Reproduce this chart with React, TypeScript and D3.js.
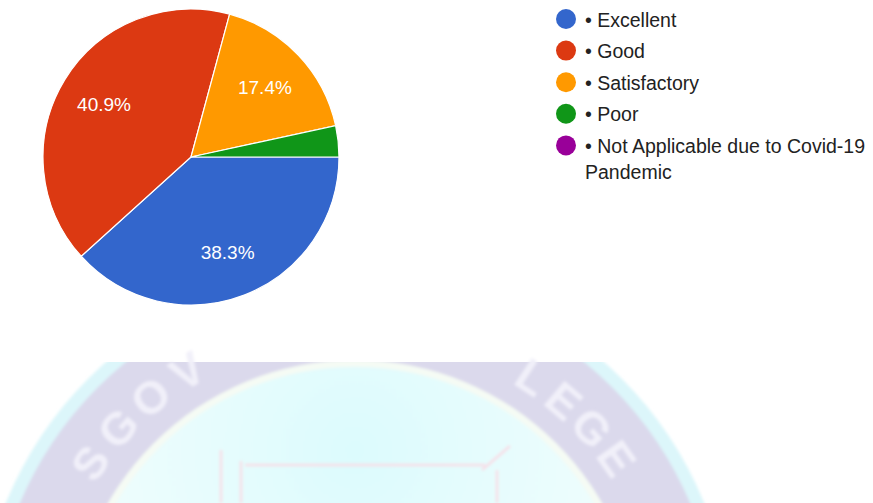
import React, { useEffect, useRef } from 'react';
import * as d3 from 'd3';

// survey answers, in the order the pie is drawn
const categories = ['Excellent', 'Good', 'Satisfactory', 'Poor', 'Not Applicable due to Covid-19 Pandemic'];
const shares = [38.3, 40.9, 17.4, 3.4, 0];
const colors = ['#3366cc', '#dc3912', '#ff9900', '#109618', '#990099'];
// legend text as it wraps in the picture
const legendLines = [
    ['• Excellent'],
    ['• Good'],
    ['• Satisfactory'],
    ['• Poor'],
    ['• Not Applicable due to Covid-19', 'Pandemic'],
];
// letters of the faint seal that show below the cut
const sealLeftText = 'SGOV';
const sealRightText = 'LEGE';

const width = 873;
const height = 503;

const App = () => {
    const svgRef = useRef<SVGSVGElement>(null);

    useEffect(() => {
        document.body.style.margin = '0';
        const svg = d3.select(svgRef.current);
        svg.selectAll('*').remove();

        const defs = svg.append('defs');
        defs.append('clipPath').attr('id', 'sealClip')
            .append('rect').attr('x', 0).attr('y', 362).attr('width', width).attr('height', height - 362);
        defs.append('filter').attr('id', 'soft')
            .append('feGaussianBlur').attr('stdDeviation', 1.6);
        const grad = defs.append('radialGradient').attr('id', 'sealInner')
            .attr('cx', '50%').attr('cy', '15%').attr('r', '75%');
        grad.append('stop').attr('offset', '0%').attr('stop-color', '#dcfbfd');
        grad.append('stop').attr('offset', '55%').attr('stop-color', '#ecfdfd');
        grad.append('stop').attr('offset', '100%').attr('stop-color', '#f7fefe');

        // ---- watermark seal ----
        const sx = 355, sy = 645;
        const seal = svg.append('g').attr('clip-path', 'url(#sealClip)')
            .append('g').attr('filter', 'url(#soft)');
        seal.append('circle').attr('cx', sx).attr('cy', sy).attr('r', 377).attr('fill', '#dcf6fa');
        seal.append('circle').attr('cx', sx).attr('cy', sy).attr('r', 364).attr('fill', '#dbd9ec');
        seal.append('circle').attr('cx', sx).attr('cy', sy).attr('r', 285).attr('fill', '#f5fbf4');
        seal.append('circle').attr('cx', sx).attr('cy', sy).attr('r', 278).attr('fill', 'url(#sealInner)');

        // pink frame of the crest
        const frame = seal.append('g').attr('fill', 'none').attr('stroke', '#f8dce6').attr('stroke-width', 2.5);
        frame.append('line').attr('x1', 221).attr('x2', 221).attr('y1', 450).attr('y2', 503);
        frame.append('line').attr('x1', 241).attr('x2', 241).attr('y1', 461).attr('y2', 503);
        frame.append('line').attr('x1', 245).attr('x2', 485).attr('y1', 465).attr('y2', 465);
        frame.append('line').attr('x1', 482).attr('x2', 510).attr('y1', 470).attr('y2', 446);
        frame.append('line').attr('x1', 497).attr('x2', 497).attr('y1', 470).attr('y2', 503);

        // seal letters, one per step along the ring
        const letterR = 321;
        const step = (d: number) => d * Math.PI / 180;
        const placeLetters = (txt: string, startDeg: number, stepDeg: number) => {
            txt.split('').forEach((ch, i) => {
                const a = step(startDeg + i * stepDeg);
                const x = sx + letterR * Math.sin(a);
                const y = sy - letterR * Math.cos(a);
                svg.append('text')
                    .attr('transform', `translate(${x},${y}) rotate(${startDeg + i * stepDeg})`)
                    .attr('text-anchor', 'middle')
                    .attr('dominant-baseline', 'central')
                    .attr('font-family', 'Liberation Sans, Arial, sans-serif')
                    .attr('font-weight', 'bold')
                    .attr('font-size', 46)
                    .attr('fill', '#f1f0f9')
                    .attr('filter', 'url(#soft)')
                    .text(ch);
            });
        };
        placeLetters(sealLeftText, -55.5, 8);
        placeLetters(sealRightText, 33.5, 7);

        // ---- pie ----
        const cx = 191, cy = 157, radius = 148;
        const pie = d3.pie<number>().sort(null).value(d => d)
            .startAngle(Math.PI / 2).endAngle(Math.PI / 2 + 2 * Math.PI);
        const arcs = pie(shares);
        const arc = d3.arc<d3.PieArcDatum<number>>().innerRadius(0).outerRadius(radius);
        const labelArc = d3.arc<d3.PieArcDatum<number>>().innerRadius(102).outerRadius(102);

        const g = svg.append('g').attr('transform', `translate(${cx},${cy})`);
        g.selectAll('path.slice')
            .data(arcs.filter(d => d.value > 0))
            .enter()
            .append('path')
            .attr('class', 'slice')
            .attr('d', arc)
            .attr('fill', d => colors[d.index])
            .attr('stroke', '#ffffff')
            .attr('stroke-width', 1.2);

        g.selectAll('text.pct')
            .data(arcs.filter(d => d.value >= 5))
            .enter()
            .append('text')
            .attr('class', 'pct')
            .attr('x', d => labelArc.centroid(d)[0])
            .attr('y', d => labelArc.centroid(d)[1] + 6.8)
            .attr('text-anchor', 'middle')
            .attr('font-family', 'Liberation Sans, Arial, sans-serif')
            .attr('font-size', 19)
            .attr('fill', '#ffffff')
            .text(d => d.value.toFixed(1) + '%');

        // ---- legend ----
        const legend = svg.append('g');
        const rows = legend.selectAll('g.row')
            .data(categories)
            .enter()
            .append('g')
            .attr('class', 'row')
            .attr('transform', (d, i) => `translate(566,${19 + i * 31.6})`);
        rows.append('circle').attr('r', 10).attr('fill', (d, i) => colors[i]);
        rows.each(function (d, i) {
            const t = d3.select(this).append('text')
                .attr('font-family', 'Liberation Sans, Arial, sans-serif')
                .attr('font-size', 19.5)
                .attr('fill', '#222222');
            legendLines[i].forEach((line, j) => {
                t.append('tspan').attr('x', 19).attr('y', 7.5 + j * 26.5).text(line);
            });
        });
    }, []);

    return <svg ref={svgRef} width={width} height={height} style={{ display: 'block', background: '#ffffff' }}></svg>;
};

export default App;
